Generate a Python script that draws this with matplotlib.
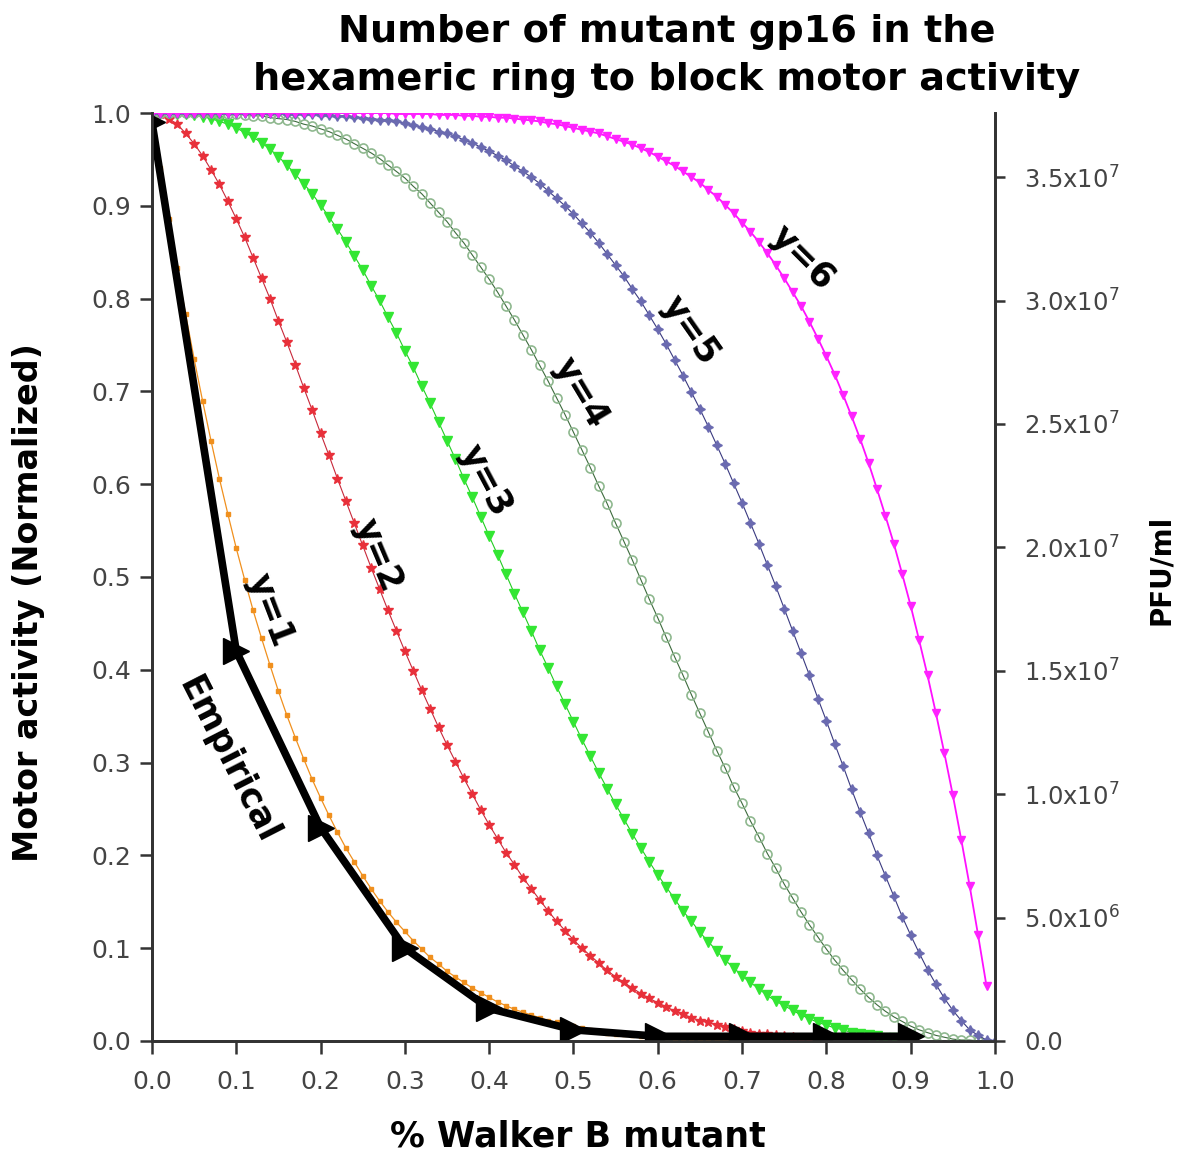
import numpy as np
import matplotlib
matplotlib.use("Agg")
import matplotlib.pyplot as plt

plt.rcParams['font.family'] = ['DejaVu Sans']

# fraction of Walker B mutant, sampled every 0.01
walker_b = np.round(np.arange(0, 101) / 100, 2)

# motor activity needed for y mutant subunits to block the ring
y1 = [1.000, 0.941, 0.886, 0.833, 0.783, 0.735, 0.690, 0.647, 0.606, 0.568,
      0.531, 0.497, 0.464, 0.434, 0.405, 0.377, 0.351, 0.327, 0.304, 0.282,
      0.262, 0.243, 0.225, 0.208, 0.193, 0.178, 0.164, 0.151, 0.139, 0.128,
      0.118, 0.108, 0.099, 0.090, 0.083, 0.075, 0.069, 0.063, 0.057, 0.052,
      0.047, 0.042, 0.038, 0.034, 0.031, 0.028, 0.025, 0.022, 0.020, 0.018,
      0.016, 0.014, 0.012, 0.011, 0.009, 0.008, 0.007, 0.006, 0.005, 0.005,
      0.004, 0.004, 0.003, 0.003, 0.002, 0.002, 0.002, 0.001, 0.001, 0.001,
      0.001]
y2 = [1.000, 0.999, 0.994, 0.988, 0.978, 0.967, 0.954, 0.939, 0.923, 0.905,
      0.886, 0.866, 0.844, 0.822, 0.800, 0.776, 0.753, 0.729, 0.704, 0.680,
      0.655, 0.631, 0.606, 0.582, 0.558, 0.534, 0.510, 0.487, 0.464, 0.442,
      0.420, 0.399, 0.378, 0.358, 0.338, 0.319, 0.301, 0.283, 0.266, 0.249,
      0.233, 0.218, 0.203, 0.190, 0.176, 0.164, 0.152, 0.140, 0.129, 0.119,
      0.109, 0.100, 0.092, 0.084, 0.076, 0.069, 0.063, 0.057, 0.051, 0.046,
      0.041, 0.037, 0.032, 0.029, 0.025, 0.022, 0.020, 0.017, 0.015, 0.013,
      0.011, 0.009, 0.008, 0.007, 0.006, 0.005, 0.004, 0.003, 0.003, 0.002,
      0.002]
y3 = [1.000, 1.000, 1.000, 0.999, 0.999, 0.998, 0.996, 0.994, 0.991, 0.988,
      0.984, 0.979, 0.974, 0.968, 0.961, 0.953, 0.944, 0.934, 0.924, 0.913,
      0.901, 0.888, 0.875, 0.861, 0.846, 0.831, 0.814, 0.798, 0.780, 0.763,
      0.744, 0.726, 0.706, 0.687, 0.667, 0.647, 0.627, 0.606, 0.586, 0.565,
      0.544, 0.524, 0.503, 0.482, 0.462, 0.442, 0.421, 0.402, 0.382, 0.363,
      0.344, 0.325, 0.307, 0.289, 0.272, 0.255, 0.239, 0.223, 0.208, 0.193,
      0.179, 0.166, 0.153, 0.140, 0.129, 0.117, 0.107, 0.097, 0.087, 0.079,
      0.070, 0.063, 0.056, 0.049, 0.043, 0.038, 0.033, 0.028, 0.024, 0.020,
      0.017, 0.014, 0.012, 0.009, 0.007, 0.006, 0.005, 0.003, 0.003, 0.002,
      0.001]
y4 = [1.000, 1.000, 1.000, 1.000, 1.000, 1.000, 1.000, 1.000, 0.999, 0.999,
      0.999, 0.998, 0.997, 0.997, 0.995, 0.994, 0.993, 0.991, 0.988, 0.986,
      0.983, 0.980, 0.976, 0.972, 0.967, 0.962, 0.957, 0.951, 0.944, 0.937,
      0.930, 0.921, 0.913, 0.903, 0.893, 0.883, 0.871, 0.860, 0.847, 0.834,
      0.821, 0.807, 0.792, 0.777, 0.761, 0.745, 0.728, 0.711, 0.693, 0.675,
      0.656, 0.637, 0.618, 0.598, 0.579, 0.558, 0.538, 0.518, 0.497, 0.476,
      0.456, 0.435, 0.414, 0.394, 0.373, 0.353, 0.333, 0.313, 0.294, 0.274,
      0.256, 0.237, 0.220, 0.202, 0.186, 0.169, 0.154, 0.139, 0.125, 0.112,
      0.099, 0.087, 0.076, 0.066, 0.056, 0.047, 0.039, 0.032, 0.026, 0.021,
      0.016, 0.012, 0.009, 0.006, 0.004, 0.002, 0.001, 0.001, 0.000]
y5 = [1.000, 1.000, 1.000, 1.000, 1.000, 1.000, 1.000, 1.000, 1.000, 1.000,
      1.000, 1.000, 1.000, 1.000, 1.000, 1.000, 0.999, 0.999, 0.999, 0.999,
      0.998, 0.998, 0.997, 0.997, 0.996, 0.995, 0.994, 0.993, 0.992, 0.991,
      0.989, 0.987, 0.985, 0.983, 0.980, 0.978, 0.975, 0.971, 0.968, 0.963,
      0.959, 0.954, 0.949, 0.943, 0.937, 0.931, 0.924, 0.916, 0.908, 0.900,
      0.891, 0.881, 0.871, 0.860, 0.848, 0.836, 0.824, 0.810, 0.797, 0.782,
      0.767, 0.751, 0.734, 0.717, 0.699, 0.681, 0.662, 0.642, 0.622, 0.601,
      0.580, 0.558, 0.536, 0.513, 0.490, 0.466, 0.442, 0.418, 0.394, 0.369,
      0.345, 0.320, 0.296, 0.271, 0.247, 0.224, 0.200, 0.178, 0.156, 0.134,
      0.114, 0.095, 0.077, 0.061, 0.046, 0.033, 0.022, 0.012, 0.006, 0.001,
      0.000]
y6 = [1.000, 1.000, 1.000, 1.000, 1.000, 1.000, 1.000, 1.000, 1.000, 1.000,
      1.000, 1.000, 1.000, 1.000, 1.000, 1.000, 1.000, 1.000, 1.000, 1.000,
      1.000, 1.000, 1.000, 1.000, 1.000, 1.000, 1.000, 1.000, 1.000, 0.999,
      0.999, 0.999, 0.999, 0.999, 0.998, 0.998, 0.998, 0.997, 0.997, 0.996,
      0.996, 0.995, 0.995, 0.994, 0.993, 0.992, 0.991, 0.989, 0.988, 0.986,
      0.984, 0.982, 0.980, 0.978, 0.975, 0.972, 0.969, 0.966, 0.962, 0.958,
      0.953, 0.948, 0.943, 0.937, 0.931, 0.925, 0.917, 0.910, 0.901, 0.892,
      0.882, 0.872, 0.861, 0.849, 0.836, 0.822, 0.807, 0.792, 0.775, 0.757,
      0.738, 0.718, 0.696, 0.673, 0.649, 0.623, 0.595, 0.566, 0.536, 0.503,
      0.469, 0.432, 0.394, 0.353, 0.310, 0.265, 0.217, 0.167, 0.114, 0.059]

# empirical motor activity
emp_x = [0.0, 0.1, 0.2, 0.3, 0.4, 0.5, 0.6, 0.7, 0.8, 0.9]
emp_y = [0.99, 0.42, 0.23, 0.10, 0.035, 0.012, 0.005, 0.005, 0.005, 0.005]

x_ticks = [0.0, 0.1, 0.2, 0.3, 0.4, 0.5, 0.6, 0.7, 0.8, 0.9, 1.0]
y_ticks = [0.0, 0.1, 0.2, 0.3, 0.4, 0.5, 0.6, 0.7, 0.8, 0.9, 1.0]
pfu_ticks = [0, 5e6, 1e7, 1.5e7, 2e7, 2.5e7, 3e7, 3.5e7]
pfu_labels = ['0.0', r'5.0x10$^6$', r'1.0x10$^7$', r'1.5x10$^7$', r'2.0x10$^7$',
              r'2.5x10$^7$', r'3.0x10$^7$', r'3.5x10$^7$']

fig = plt.figure(figsize=(11.9, 11.57), dpi=100)
ax = fig.add_axes([0.1277, 0.1003, 0.7084, 0.802])

ax.plot(walker_b[:len(y1)], y1, color='#f0901e', lw=0.9, marker='s', ms=3.5, zorder=3)
ax.plot(walker_b[:len(y2)], y2, color='#c8283a', lw=0.8, marker='*', ms=7,
        mfc='#e8303a', mec='#e8303a', zorder=3)
ax.plot(walker_b[:len(y3)], y3, color='#22cc22', lw=0.8, marker='v', ms=6.5,
        mfc='#33e633', mec='#33e633', zorder=3)
ax.plot(walker_b[:len(y4)], y4, color='#3d6b3d', lw=0.8, marker='o', ms=6.5,
        mfc='none', mec='#8fb88f', mew=1.2, zorder=3)
ax.plot(walker_b[:len(y5)], y5, color='#3a3a80', lw=0.8, marker=(4, 1, 0), ms=7,
        mfc='#6a6ab0', mec='#6a6ab0', zorder=3)
ax.plot(walker_b[:len(y6)], y6, color='#ff10ff', lw=1.3, marker='v', ms=6,
        mfc='#ff22ff', mec='#ff22ff', zorder=3)

ax.plot(emp_x, emp_y, color='black', lw=5.5, marker='>', ms=19, zorder=4,
        solid_capstyle='butt')

ax.set_xlim(0, 1.0)
ax.set_ylim(0, 1.0)
ax.set_xticks(x_ticks)
ax.set_xticklabels([f'{v:.1f}' for v in x_ticks])
ax.set_yticks(y_ticks)
ax.set_yticklabels([f'{v:.1f}' for v in y_ticks])

ax2 = ax.twinx()
ax2.set_ylim(0, 3.76e7)
ax2.set_yticks(pfu_ticks)
ax2.set_yticklabels(pfu_labels)

for a in (ax, ax2):
    a.spines['top'].set_visible(False)
    for s in a.spines.values():
        s.set_linewidth(2)
        s.set_color('#333333')
    a.tick_params(direction='out', length=9, width=1.8, colors='#333333',
                  labelsize=18, labelcolor='#444444')
ax.tick_params(axis='x', pad=12)
ax.tick_params(axis='y', pad=6)
ax2.tick_params(axis='y', length=7, pad=14, labelsize=17.5)

ax.set_xlabel('% Walker B mutant', fontsize=25, fontweight='bold')
ax.xaxis.set_label_coords(0.505, -0.085)
ax.set_ylabel('Motor activity (Normalized)', fontsize=24, fontweight='bold')
ax.yaxis.set_label_coords(-0.127, 0.472)
ax2.set_ylabel('PFU/ml', fontsize=20, fontweight='bold')
ax2.yaxis.set_label_coords(1.18, 0.5075)

fig.text(0.56, 0.988, 'Number of mutant gp16 in the\nhexameric ring to block motor activity',
         ha='center', va='top', fontsize=27.5, fontweight='bold', linespacing=1.45)

# curve labels
labels = [('y=1', 0.140, 0.464, -69), ('y=2', 0.268, 0.524, -67),
          ('y=3', 0.395, 0.604, -62), ('y=4', 0.508, 0.699, -59),
          ('y=5', 0.638, 0.766, -55), ('y=6', 0.772, 0.844, -45),
          ('Empirical', 0.090, 0.303, -63)]
for txt, lx, ly, rot in labels:
    ax.text(lx, ly, txt, rotation=rot, rotation_mode='anchor', ha='center', va='center',
            fontsize=25, fontweight='bold', zorder=5)

fig.savefig('out.png', dpi=100)
